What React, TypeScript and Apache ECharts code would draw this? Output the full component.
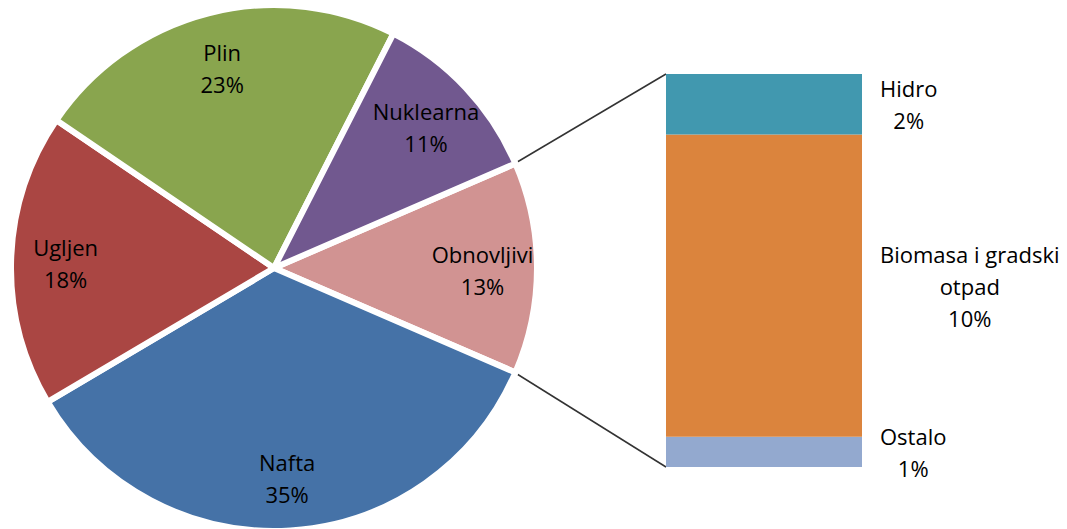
import React, { useEffect, useRef } from "react";
import * as echarts from "echarts";

// Pie data (order: clockwise starting from the upper edge of "Obnovljivi")
const pieNames = ["Obnovljivi", "Nafta", "Ugljen", "Plin", "Nuklearna"];
const pieValues = [13, 35, 18, 23, 11];
const pieColors = ["#D19392", "#4572A7", "#AA4643", "#89A54E", "#71588F"];

// Breakdown of "Obnovljivi" (bottom to top in the stacked bar)
const barNames = ["Ostalo", "Biomasa i gradski otpad", "Hidro"];
const barValues = [1, 10, 2];
const barColors = ["#93A9CF", "#DB843D", "#4198AF"];

const FONT = "'Open Sans', 'Noto Sans', sans-serif";

function wrapWords(text: string, maxChars: number): string[] {
  const words = text.split(" ");
  const lines: string[] = [];
  let cur = "";
  for (const w of words) {
    const next = cur ? cur + " " + w : w;
    if (next.length > maxChars && cur) {
      lines.push(cur);
      cur = w;
    } else {
      cur = next;
    }
  }
  if (cur) lines.push(cur);
  return lines;
}

export default function App() {
  const ref = useRef<HTMLDivElement>(null);

  useEffect(() => {
    document.body.style.margin = "0";
    if (!ref.current) return;
    const chart = echarts.init(ref.current, undefined, { renderer: "svg" });

    const cx = 274;
    const cy = 268;
    const rOuter = 263;
    const rVisible = 260;
    const total = pieValues.reduce((a, b) => a + b, 0);
    const halfAngle = (pieValues[0] / total) * 180; // degrees
    const startAngle = halfAngle;

    const grid = { left: 666, top: 74, width: 196, height: 393 };
    const barTotal = barValues.reduce((a, b) => a + b, 0);

    const rad = (halfAngle * Math.PI) / 180;
    const upper = [cx + rVisible * Math.cos(rad), cy - rVisible * Math.sin(rad)];
    const lower = [cx + rVisible * Math.cos(rad), cy + rVisible * Math.sin(rad)];

    const pieData = pieNames.map((n, i) => ({
      name: n,
      value: pieValues[i],
      itemStyle: { color: pieColors[i] },
    }));

    const barSeries = barNames.map((n, i) => {
      const lines = [...wrapWords(n, 17), `${barValues[i]}%`];
      return {
        type: "bar",
        name: n,
        stack: "o",
        barWidth: "100%",
        data: [barValues[i]],
        itemStyle: { color: barColors[i] },
        silent: true,
        label: {
          show: true,
          position: "right",
          distance: 18,
          fontFamily: FONT,
          fontSize: 22,
          color: "#000",
          lineHeight: 32,
          formatter: () => lines.map((l) => `{c|${l}}`).join("\n"),
          rich: {
            c: {
              align: "center",
              fontFamily: FONT,
              fontSize: 22,
              lineHeight: 32,
              color: "#000",
            },
          },
        },
      };
    });

    chart.setOption({
      animation: false,
      grid: { ...grid, containLabel: false },
      xAxis: { type: "category", data: ["Obnovljivi"], show: false },
      yAxis: { type: "value", min: 0, max: barTotal, show: false },
      series: [
        {
          type: "pie",
          center: [cx, cy],
          radius: [0, rOuter],
          startAngle,
          clockwise: true,
          silent: true,
          label: { show: false },
          labelLine: { show: false },
          itemStyle: { borderColor: "#fff", borderWidth: 6 },
          data: pieData,
        },
        {
          type: "pie",
          center: [cx, cy + 2],
          radius: [148, rOuter],
          startAngle,
          clockwise: true,
          silent: true,
          avoidLabelOverlap: false,
          itemStyle: { color: "transparent", borderWidth: 0 },
          labelLine: { show: false },
          label: {
            show: true,
            position: "inside",
            fontFamily: FONT,
            fontSize: 22,
            lineHeight: 32,
            color: "#000",
            formatter: (p: any) => `${p.name}\n${p.value}%`,
          },
          data: pieNames.map((n, i) => ({ name: n, value: pieValues[i] })),
        },
        ...barSeries,
      ],
      graphic: [
        {
          type: "line",
          shape: { x1: upper[0], y1: upper[1], x2: grid.left, y2: grid.top },
          style: { stroke: "#333", lineWidth: 1.5 },
          silent: true,
        },
        {
          type: "line",
          shape: {
            x1: lower[0],
            y1: lower[1],
            x2: grid.left,
            y2: grid.top + grid.height,
          },
          style: { stroke: "#333", lineWidth: 1.5 },
          silent: true,
        },
      ],
    });

    return () => chart.dispose();
  }, []);

  return <div ref={ref} style={{ width: 1067, height: 529 }} />;
}
